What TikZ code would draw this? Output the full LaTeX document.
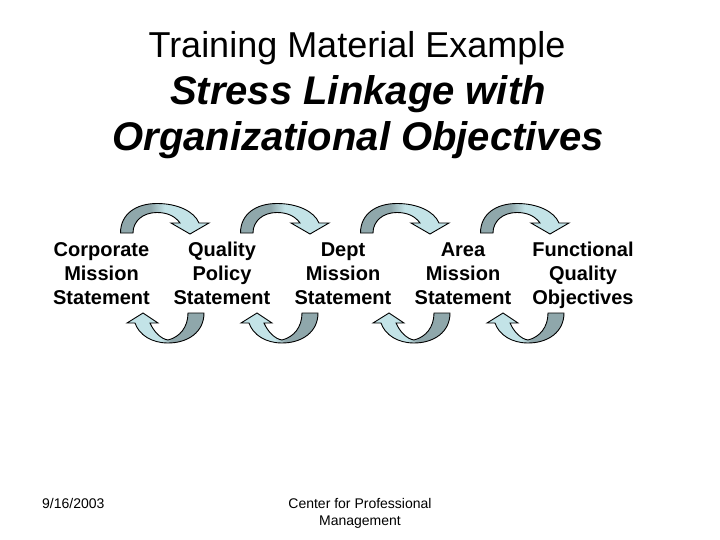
\documentclass[tikz,border=0pt]{standalone}
\usepackage{fontspec}
\setmainfont{Liberation Sans}
\definecolor{dk}{HTML}{8FA7AB}
\definecolor{lt}{HTML}{C3E3E7}
\pgfdeclarehorizontalshading{topsh}{100bp}{color(0bp)=(dk); color(42bp)=(dk); color(50bp)=(lt); color(100bp)=(lt)}
\pgfdeclarehorizontalshading{botsh}{100bp}{color(0bp)=(lt); color(47bp)=(lt); color(54bp)=(dk); color(100bp)=(dk)}
\newcommand{\TopArrowPath}{(120.5,233) .. controls (120.5,214) and (136,203.5) .. (157,203.5) .. controls (177,203.5) and (194,211) .. (199,223) -- (209,223) -- (190,234) -- (171,223) -- (180,223) .. controls (175,216) and (167,212.5) .. (157,212.5) .. controls (143,212.5) and (133,221) .. (133,233) -- cycle}
\newcommand{\BotArrowPath}{(204,313) .. controls (204,332) and (188,343) .. (168,343) .. controls (152,343) and (139,335) .. (135,323) -- (127,323) -- (143,313) -- (158,323) -- (150,323) .. controls (154,332) and (161,339) .. (168,340) .. controls (180,337) and (188,327) .. (188,313) -- cycle}
\newcommand{\labelcol}[5]{%
  \node[lbl] (#1-1) at (#2,256) {#3};
  \node[lbl] (#1-2) at (#2,280.2) {#4};
  \node[lbl] (#1-3) at (#2,304.4) {#5};}
\begin{document}
\begin{tikzpicture}[x=1pt,y=-1pt,
  lbl/.style={font=\fontsize{20}{24.3}\selectfont\bfseries, anchor=base, inner sep=0pt},
  ttl/.style={font=\fontsize{40}{46}\selectfont\bfseries\itshape, anchor=base, inner sep=0pt},
  foot/.style={font=\fontsize{14}{17}\selectfont, inner sep=0pt},
  outline/.style={draw=black, line width=0.9pt}]
\useasboundingbox (0,0) rectangle (720,540);
\fill[white] (0,0) rectangle (720,540);

% title
\node[font=\fontsize{36}{40}\selectfont, anchor=base, inner sep=0pt] (t1) at (357,58) {Training Material Example};
\node[ttl] (t2) at (358,105) {Stress Linkage with};
\node[ttl] (t3) at (358,151) {Organizational Objectives};

% curved arrows on top
\foreach \o in {0,120,240,360} {
  \begin{scope}[xshift=\o pt]
    \shade[shading=topsh] \TopArrowPath;
    \draw[outline] \TopArrowPath;
  \end{scope}
}
% curved arrows below
\foreach \o in {0,114,246,360} {
  \begin{scope}[xshift=\o pt]
    \shade[shading=botsh] \BotArrowPath;
    \draw[outline] \BotArrowPath;
  \end{scope}
}

% labels
\labelcol{c1}{101.5}{Corporate}{Mission}{Statement}
\labelcol{c2}{222}{Quality}{Policy}{Statement}
\labelcol{c3}{343}{Dept}{Mission}{Statement}
\labelcol{c4}{463}{Area}{Mission}{Statement}
\labelcol{c5}{583}{Functional}{Quality}{Objectives}

% footer
\node[foot, anchor=base west] (date) at (42,508) {9/16/2003};
\node[foot, anchor=base] (cpm1) at (360,508) {Center for Professional};
\node[foot, anchor=base] (cpm2) at (360,525) {Management};
\end{tikzpicture}
\end{document}
